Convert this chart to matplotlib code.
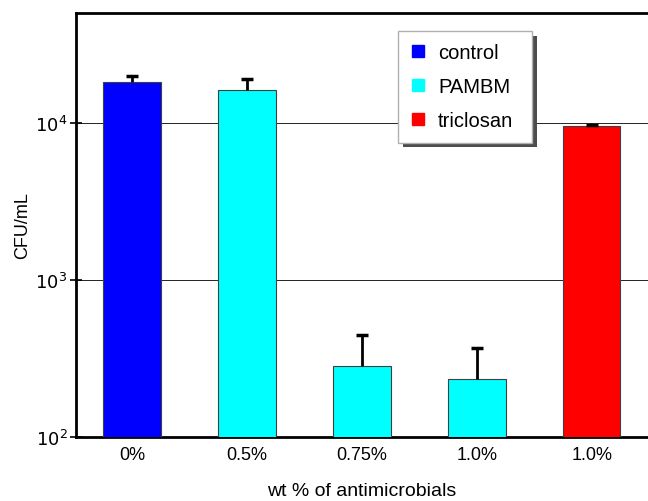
import matplotlib
matplotlib.use("Agg")
import matplotlib.pyplot as plt
import matplotlib.patheffects as pe
from matplotlib.lines import Line2D

plt.rcParams['font.family'] = ['Liberation Sans', 'DejaVu Sans']

labels = ["0%", "0.5%", "0.75%", "1.0%", "1.0%"]
cfu = [18300, 16200, 282, 232, 9600]
err_up = [1800, 2800, 166, 135, 150]
colors = ["#0000ff", "#00ffff", "#00ffff", "#00ffff", "#ff0000"]
legend_names = ["control", "PAMBM", "triclosan"]
legend_colors = ["#0000ff", "#00ffff", "#ff0000"]

fig = plt.figure(figsize=(6.48, 5.02), dpi=100)
ax = fig.add_axes([0.117, 0.128, 0.883, 0.844])

x = list(range(len(cfu)))
ax.bar(x, cfu, width=0.5, color=colors, edgecolor="#404040", linewidth=0.8, zorder=3)
# upper error bars only: stem + cap
tops = [v + e for v, e in zip(cfu, err_up)]
ax.vlines(x, cfu, tops, color="black", linewidth=2, zorder=4)
ax.plot(x, tops, linestyle="none", marker="_", markersize=9, markeredgewidth=2.5,
        color="black", zorder=4)

ax.set_yscale("log")
ax.set_ylim(100, 50300)
ax.set_xlim(-0.49, 4.49)
ax.set_yticks([100, 1000, 10000])
ax.set_yticklabels([r"$10^2$", r"$10^3$", r"$10^4$"])
ax.minorticks_off()
ax.yaxis.grid(True, color="black", linewidth=0.6, zorder=0)
ax.set_axisbelow(True)

ax.set_xticks(x)
ax.set_xticklabels(labels)
ax.tick_params(axis="x", length=0, labelsize=13, pad=7)
ax.tick_params(axis="y", direction="inout", length=8, width=1.2, labelsize=13, pad=2)

ax.spines["right"].set_visible(False)
for s in ["left", "top", "bottom"]:
    ax.spines[s].set_linewidth(2)

ax.set_ylabel("CFU/mL", fontsize=13, labelpad=3)
ax.set_xlabel("wt % of antimicrobials", fontsize=14, labelpad=13)

handles = [Line2D([], [], marker="s", linestyle="none", markersize=8,
                  markerfacecolor=c, markeredgecolor=c) for c in legend_colors]
leg = ax.legend(handles, legend_names, loc="upper left", mode="expand",
                bbox_to_anchor=(0.614, 0.936, 0.207, 0), bbox_transform=fig.transFigure,
                fontsize=14.5, frameon=True, fancybox=False, shadow=False, framealpha=1,
                labelspacing=0.75, handlelength=0.8, handletextpad=0.6,
                borderpad=0.6, borderaxespad=0)
frame = leg.get_frame()
frame.set_edgecolor("#b0b0b0")
frame.set_linewidth(1)
frame.set_path_effects([pe.SimplePatchShadow(offset=(3.5, -3.5), shadow_rgbFace="0.3", alpha=1),
                        pe.Normal()])

fig.savefig("out.png", dpi=100)
